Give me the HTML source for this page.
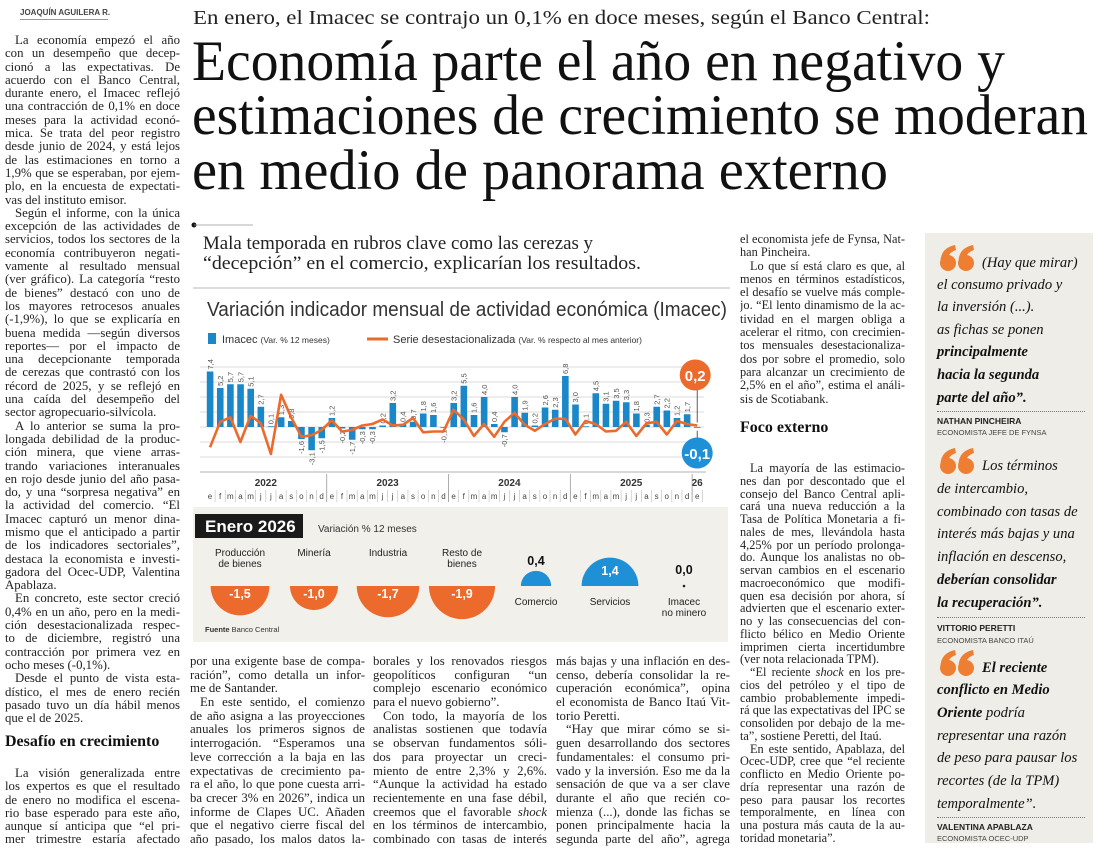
<!DOCTYPE html>
<html><head><meta charset="utf-8">
<style>
html,body{margin:0;padding:0;background:#fff;}
body{width:1100px;height:849px;position:relative;overflow:hidden;}
.col{position:absolute;font-family:"Liberation Serif",serif;font-size:12.8px;color:#222;}
.col div{height:13.3px;line-height:13.3px;overflow:hidden;text-align:justify;text-align-last:justify;}
.col div.e{text-align-last:left;}
.col div.i{padding-left:10px;}
.b div{height:13.7px;line-height:13.7px;}
.r2 div{height:12.76px;line-height:12.76px;}
.r{font-size:12.3px;}
.h2{position:absolute;font-family:"Liberation Serif",serif;font-weight:bold;font-size:16px;color:#111;}
.q{position:absolute;font-family:"Liberation Serif",serif;font-style:italic;font-size:14.6px;color:#111;white-space:nowrap;line-height:16px;}
.q b{font-weight:bold;}
.nm{position:absolute;font-family:"Liberation Sans",sans-serif;font-weight:bold;font-size:8.5px;color:#222;}
.rl{position:absolute;font-family:"Liberation Sans",sans-serif;font-size:7.5px;color:#444;}
.dot{position:absolute;border-top:1px dotted #777;height:0;}
</style></head>
<body>
<div style="position:absolute;left:20px;top:8px;font-family:'Liberation Sans',sans-serif;font-weight:bold;font-size:8px;color:#444;border-bottom:1px solid #999;padding-bottom:2px;width:88px;white-space:nowrap;">JOAQUÍN AGUILERA R.</div>

<div class="col" style="left:5px;top:34px;width:175px;">
<div class="i">La economía empezó el año</div>
<div>con un desempeño que decep-</div>
<div>cionó a las expectativas. De</div>
<div>acuerdo con el Banco Central,</div>
<div>durante enero, el Imacec reflejó</div>
<div>una contracción de 0,1% en doce</div>
<div>meses para la actividad econó-</div>
<div>mica. Se trata del peor registro</div>
<div>desde junio de 2024, y está lejos</div>
<div>de las estimaciones en torno a</div>
<div>1,9% que se esperaban, por ejem-</div>
<div>plo, en la encuesta de expectati-</div>
<div class="e">vas del instituto emisor.</div>
<div class="i">Según el informe, con la única</div>
<div>excepción de las actividades de</div>
<div>servicios, todos los sectores de la</div>
<div>economía contribuyeron negati-</div>
<div>vamente al resultado mensual</div>
<div>(ver gráfico). La categoría “resto</div>
<div>de bienes” destacó con uno de</div>
<div>los mayores retrocesos anuales</div>
<div>(-1,9%), lo que se explicaría en</div>
<div>buena medida —según diversos</div>
<div>reportes— por el impacto de</div>
<div>una decepcionante temporada</div>
<div>de cerezas que contrastó con los</div>
<div>récord de 2025, y se reflejó en</div>
<div>una caída del desempeño del</div>
<div class="e">sector agropecuario-silvícola.</div>
<div class="i">A lo anterior se suma la pro-</div>
<div>longada debilidad de la produc-</div>
<div>ción minera, que viene arras-</div>
<div>trando variaciones interanuales</div>
<div>en rojo desde junio del año pasa-</div>
<div>do, y una “sorpresa negativa” en</div>
<div>la actividad del comercio. “El</div>
<div>Imacec capturó un menor dina-</div>
<div>mismo que el anticipado a partir</div>
<div>de los indicadores sectoriales”,</div>
<div>destaca la economista e investi-</div>
<div>gadora del Ocec-UDP, Valentina</div>
<div class="e">Apablaza.</div>
<div class="i">En concreto, este sector creció</div>
<div>0,4% en un año, pero en la medi-</div>
<div>ción desestacionalizada respec-</div>
<div>to de diciembre, registró una</div>
<div>contracción por primera vez en</div>
<div class="e">ocho meses (-0,1%).</div>
<div class="i">Desde el punto de vista esta-</div>
<div>dístico, el mes de enero recién</div>
<div>pasado tuvo un día hábil menos</div>
<div class="e">que el de 2025.</div>
</div>
<div class="h2" style="left:5px;top:733px;">Desafío en crecimiento</div>
<div class="col" style="left:5px;top:767px;width:175px;">
<div class="i">La visión generalizada entre</div>
<div>los expertos es que el resultado</div>
<div>de enero no modifica el escena-</div>
<div>rio base esperado para este año,</div>
<div>aunque sí anticipa que “el pri-</div>
<div>mer trimestre estaría afectado</div>
</div>

<div class="col b" style="left:190px;top:655px;width:175px;">
<div>por una exigente base de compa-</div>
<div>ración”, como detalla un infor-</div>
<div class="e">me de Santander.</div>
<div class="i">En este sentido, el comienzo</div>
<div>de año asigna a las proyecciones</div>
<div>anuales los primeros signos de</div>
<div>interrogación. “Esperamos una</div>
<div>leve corrección a la baja en las</div>
<div>expectativas de crecimiento pa-</div>
<div>ra el año, lo que pone cuesta arri-</div>
<div>ba crecer 3% en 2026”, indica un</div>
<div>informe de Clapes UC. Añaden</div>
<div>que el negativo cierre fiscal del</div>
<div>año pasado, los malos datos la-</div>
</div>
<div class="col b" style="left:373px;top:655px;width:174px;">
<div>borales y los renovados riesgos</div>
<div>geopolíticos configuran “un</div>
<div>complejo escenario económico</div>
<div class="e">para el nuevo gobierno”.</div>
<div class="i">Con todo, la mayoría de los</div>
<div>analistas sostienen que todavía</div>
<div>se observan fundamentos sóli-</div>
<div>dos para proyectar un creci-</div>
<div>miento de entre 2,3% y 2,6%.</div>
<div>“Aunque la actividad ha estado</div>
<div>recientemente en una fase débil,</div>
<div>creemos que el favorable <i>shock</i></div>
<div>en los términos de intercambio,</div>
<div>combinado con tasas de interés</div>
</div>
<div class="col b" style="left:556px;top:655px;width:174px;">
<div>más bajas y una inflación en des-</div>
<div>censo, debería consolidar la re-</div>
<div>cuperación económica”, opina</div>
<div>el economista de Banco Itaú Vit-</div>
<div class="e">torio Peretti.</div>
<div class="i">“Hay que mirar cómo se si-</div>
<div>guen desarrollando dos sectores</div>
<div>fundamentales: el consumo pri-</div>
<div>vado y la inversión. Eso me da la</div>
<div>sensación de que va a ser clave</div>
<div>durante el año que recién co-</div>
<div>mienza (...), donde las fichas se</div>
<div>ponen principalmente hacia la</div>
<div>segunda parte del año”, agrega</div>
</div>

<div class="col r" style="left:740px;top:233px;width:165px;">
<div>el economista jefe de Fynsa, Nat-</div>
<div class="e">han Pincheira.</div>
<div class="i">Lo que sí está claro es que, al</div>
<div>menos en términos estadísticos,</div>
<div>el desafío se vuelve más comple-</div>
<div>jo. “El lento dinamismo de la ac-</div>
<div>tividad en el margen obliga a</div>
<div>acelerar el ritmo, con crecimien-</div>
<div>tos mensuales desestacionaliza-</div>
<div>dos por sobre el promedio, solo</div>
<div>para alcanzar un crecimiento de</div>
<div>2,5% en el año”, estima el análi-</div>
<div class="e">sis de Scotiabank.</div>
</div>
<div class="h2" style="left:740px;top:419px;">Foco externo</div>
<div class="col r r2" style="left:740px;top:462px;width:165px;">
<div class="i">La mayoría de las estimacio-</div>
<div>nes dan por descontado que el</div>
<div>consejo del Banco Central apli-</div>
<div>cará una nueva reducción a la</div>
<div>Tasa de Política Monetaria a fi-</div>
<div>nales de mes, llevándola hasta</div>
<div>4,25% por un período prolonga-</div>
<div>do. Aunque los analistas no ob-</div>
<div>servan cambios en el escenario</div>
<div>macroeconómico que modifi-</div>
<div>quen esa decisión por ahora, sí</div>
<div>advierten que el escenario exter-</div>
<div>no y las consecuencias del con-</div>
<div>flicto bélico en Medio Oriente</div>
<div>imprimen cierta incertidumbre</div>
<div class="e">(ver nota relacionada TPM).</div>
<div class="i">“El reciente <i>shock</i> en los pre-</div>
<div>cios del petróleo y el tipo de</div>
<div>cambio probablemente impedi-</div>
<div>rá que las expectativas del IPC se</div>
<div>consoliden por debajo de la me-</div>
<div class="e">ta”, sostiene Peretti, del Itaú.</div>
<div class="i">En este sentido, Apablaza, del</div>
<div>Ocec-UDP, cree que “el reciente</div>
<div>conflicto en Medio Oriente po-</div>
<div>dría representar una razón de</div>
<div>peso para pausar los recortes</div>
<div>temporalmente, en línea con</div>
<div>una postura más cauta de la au-</div>
<div class="e">toridad monetaria”.</div>
</div>

<div style="position:absolute;left:925px;top:233px;width:168px;height:610px;background:#efede7;"></div>
<div class="q" style="left:982px;top:255px;">(Hay que mirar)</div>
<div class="q" style="left:937px;top:277px;">el consumo privado y</div>
<div class="q" style="left:937px;top:299px;">la inversión (...).</div>
<div class="q" style="left:937px;top:322px;">as fichas se ponen</div>
<div class="q" style="left:937px;top:344px;"><b>principalmente</b></div>
<div class="q" style="left:937px;top:367px;"><b>hacia la segunda</b></div>
<div class="q" style="left:937px;top:390px;"><b>parte del año”.</b></div>
<div class="dot" style="left:937px;top:411px;width:148px;"></div>
<div class="nm" style="left:937px;top:416px;">NATHAN PINCHEIRA</div>
<div class="rl" style="left:937px;top:428px;">ECONOMISTA JEFE DE FYNSA</div>

<div class="q" style="left:982px;top:458px;">Los términos</div>
<div class="q" style="left:937px;top:481px;">de intercambio,</div>
<div class="q" style="left:937px;top:504px;">combinado con tasas de</div>
<div class="q" style="left:937px;top:526px;">interés más bajas y una</div>
<div class="q" style="left:937px;top:549px;">inflación en descenso,</div>
<div class="q" style="left:937px;top:572px;"><b>deberían consolidar</b></div>
<div class="q" style="left:937px;top:595px;"><b>la recuperación”.</b></div>
<div class="dot" style="left:937px;top:617px;width:148px;"></div>
<div class="nm" style="left:937px;top:623px;">VITTORIO PERETTI</div>
<div class="rl" style="left:937px;top:636px;">ECONOMISTA BANCO ITAÚ</div>

<div class="q" style="left:982px;top:660px;"><b>El reciente</b></div>
<div class="q" style="left:937px;top:682px;"><b>conflicto en Medio</b></div>
<div class="q" style="left:937px;top:705px;"><b>Oriente</b> podría</div>
<div class="q" style="left:937px;top:728px;">representar una razón</div>
<div class="q" style="left:937px;top:750px;">de peso para pausar los</div>
<div class="q" style="left:937px;top:773px;">recortes (de la TPM)</div>
<div class="q" style="left:937px;top:796px;">temporalmente”.</div>
<div class="dot" style="left:937px;top:817px;width:148px;"></div>
<div class="nm" style="left:937px;top:822px;">VALENTINA APABLAZA</div>
<div class="rl" style="left:937px;top:834px;">ECONOMISTA OCEC-UDP</div>

<svg id="page" width="1100" height="849" viewBox="0 0 1100 849" style="position:absolute;left:0;top:0;" xmlns="http://www.w3.org/2000/svg">
<g font-family="Liberation Serif, serif" fill="#111">
<text x="193" y="24" font-size="20" textLength="737" lengthAdjust="spacingAndGlyphs" fill="#222">En enero, el Imacec se contrajo un 0,1% en doce meses, según el Banco Central:</text>
<text x="192" y="80" font-size="57" textLength="813" lengthAdjust="spacingAndGlyphs">Economía parte el año en negativo y</text>
<text x="192" y="134" font-size="57" textLength="896" lengthAdjust="spacingAndGlyphs">estimaciones de crecimiento se moderan</text>
<text x="192" y="189" font-size="57" textLength="696" lengthAdjust="spacingAndGlyphs">en medio de panorama externo</text>
<text x="203" y="249" font-size="19" textLength="390" lengthAdjust="spacingAndGlyphs" fill="#222">Mala temporada en rubros clave como las cerezas y</text>
<text x="203" y="269" font-size="19" textLength="438" lengthAdjust="spacingAndGlyphs" fill="#222">“decepción” en el comercio, explicarían los resultados.</text>
</g>
<circle cx="194" cy="225" r="2.5" fill="#111"/>
<line x1="194" y1="225" x2="253" y2="225" stroke="#999" stroke-width="0.8"/>
<line x1="193" y1="288" x2="730" y2="288" stroke="#bbb" stroke-width="1"/>
<g fill="#ee7f32">
<circle cx="948" cy="263" r="8"/><path d="M940.5 261 Q941 248 955 245 L956 250 Q948 253 948.5 258 Z"/>
<circle cx="966" cy="263" r="8"/><path d="M958.5 261 Q959 248 973 245 L974 250 Q966 253 966.5 258 Z"/>
<circle cx="948" cy="466" r="8"/><path d="M940.5 464 Q941 451 955 448 L956 453 Q948 456 948.5 461 Z"/>
<circle cx="966" cy="466" r="8"/><path d="M958.5 464 Q959 451 973 448 L974 453 Q966 456 966.5 461 Z"/>
<circle cx="948" cy="668" r="8"/><path d="M940.5 666 Q941 653 955 650 L956 655 Q948 658 948.5 663 Z"/>
<circle cx="966" cy="668" r="8"/><path d="M958.5 666 Q959 653 973 650 L974 655 Q966 658 966.5 663 Z"/>
</g>
<g id="chart" font-family="Liberation Sans, sans-serif"></g>
</svg>

<script>
const monthLabels = ['e','f','m','a','m','j','j','a','s','o','n','d','e','f','m','a','m','j','j','a','s','o','n','d','e','f','m','a','m','j','j','a','s','o','n','d','e','f','m','a','m','j','j','a','s','o','n','d','e'];
const yearLabels = ['2022','2023','2024','2025','26'];
const imacec = [7.4,5.2,5.7,5.7,5.1,2.7,0.1,1.3,0.8,-1.6,-3.1,-1.5,
  1.2,-0.2,-1.7,-0.3,-0.3,0.2,3.2,0.4,0.7,1.8,1.6,-0.1,
  3.2,5.5,1.6,4.0,0.4,-0.7,4.0,1.9,0.2,2.6,2.3,6.8,
  3.0,0.1,4.5,3.1,3.5,3.3,1.8,0.3,2.7,2.2,1.2,1.7,
  -0.1];
const desest = [-2.7,0.7,1.3,-2.0,1.5,0.5,-3.6,4.3,1.3,-1.3,-1.1,-0.4,
  0.9,-0.6,-0.4,0.2,0.4,1.0,0.2,0.3,1.2,-0.7,-0.6,-0.6,
  2.3,1.0,-1.2,0.4,-1.3,0.7,1.9,0.3,-0.5,0.4,1.1,1.1,
  -1.0,0.8,0.4,-0.6,-0.5,0.7,-1.2,0.5,0.7,-1.0,0.8,0.4,
  0.2];
const gridTicks = [-4,-2,0,2,4,6,8];
const sectorNames = [['Producción','de bienes'],['Minería'],['Industria'],['Resto de','bienes'],['Comercio'],['Servicios'],['Imacec','no minero']];
const sectorValues = [-1.5,-1.0,-1.7,-1.9,0.4,1.4,0.0];

const NS='http://www.w3.org/2000/svg';
const g=document.getElementById('chart');
function el(tag,attrs,parent){const e=document.createElementNS(NS,tag);for(const k in attrs)e.setAttribute(k,attrs[k]);(parent||g).appendChild(e);return e;}
function fmt(v){return v.toFixed(1).replace('.',',');}
const x0=210, step=10.15, base=427, unit=7.5;
const xs=i=>x0+i*step;
const ys=v=>base-v*unit;

let t=el('text',{x:207,y:316,'font-size':20,fill:'#333',textLength:520,lengthAdjust:'spacingAndGlyphs'});
t.textContent='Variación indicador mensual de actividad económica (Imacec)';


let lg=el('rect',{x:208,y:333,width:8,height:11,fill:'#1a87c9'});


t=el('text',{x:222,y:343,'font-size':11,fill:'#333'});t.innerHTML='Imacec <tspan font-size="8.5">(Var. % 12 meses)</tspan>';


lg=el('line',{x1:367,y1:339,x2:388,y2:339,stroke:'#ec6a2c','stroke-width':3});


t=el('text',{x:393,y:343,'font-size':11,fill:'#333'});t.innerHTML='Serie desestacionalizada <tspan font-size="8.5">(Var. % respecto al mes anterior)</tspan>';



gridTicks.forEach(v=>{const l=el('line',{x1:200,x2:704,y1:ys(v),y2:ys(v),stroke:'#cfcfcf','stroke-width':0.7});

});

imacec.forEach((v,i)=>{
  const r=el('rect',{x:xs(i)-3.2,y:Math.min(ys(v),base),width:6.6,height:Math.max(Math.abs(v)*unit,0.8),fill:'#1a87c9'});
  
  
  if(i<imacec.length-1){
    const pos=v>=0;
    const yy=pos?ys(v)-2:ys(v)+2;
    const lb=el('text',{x:0,y:0,'font-size':7.5,fill:'#555','text-anchor':pos?'start':'end',transform:`translate(${xs(i)+2.8},${yy}) rotate(-90)`});
    lb.textContent=fmt(v);
    
    
  }
});
const pts=desest.map((v,i)=>xs(i).toFixed(1)+','+ys(v).toFixed(1)).join(' ');
const pl=el('polyline',{points:pts,fill:'none',stroke:'#ec6a2c','stroke-width':2.6,'stroke-linejoin':'round'});



const li=desest.length-1;
const cxL=xs(li)-2;
el('line',{x1:cxL+2,y1:390,x2:cxL+2,y2:ys(desest[li])-3,stroke:'#333','stroke-width':0.8});
el('line',{x1:cxL+2,y1:438,x2:cxL+2,y2:ys(imacec[li])+3,stroke:'#333','stroke-width':0.8});
let c=el('circle',{cx:cxL,cy:375,r:15.5,fill:'#ec6a2c'});


t=el('text',{x:cxL,y:381,'font-size':15,'font-weight':'bold',fill:'#fff','text-anchor':'middle'});t.textContent=fmt(desest[li]);
c=el('circle',{cx:cxL+2,cy:453,r:15.5,fill:'#1f8fd6'});


t=el('text',{x:cxL+2,y:459,'font-size':15,'font-weight':'bold',fill:'#fff','text-anchor':'middle'});t.textContent=fmt(imacec[li]);

el('line',{x1:200,x2:706,y1:472,y2:472,stroke:'#999','stroke-width':0.8});
monthLabels.forEach((m,i)=>{
  const mt=el('text',{x:xs(i),y:499,'font-size':8,fill:'#444','text-anchor':'middle'});mt.textContent=m;
  
  
  el('line',{x1:xs(i)+step/2,x2:xs(i)+step/2,y1:490,y2:502,stroke:'#bbb','stroke-width':0.6});
});
yearLabels.forEach((y,k)=>{
  const s=k*12, e=Math.min(s+11,monthLabels.length-1);
  const yt=el('text',{x:(xs(s)+xs(e))/2,y:486,'font-size':10,'font-weight':'bold',fill:'#333','text-anchor':'middle'});yt.textContent=y;
  
  
  if(k>0) el('line',{x1:xs(s)-step/2,x2:xs(s)-step/2,y1:474,y2:502,stroke:'#999','stroke-width':0.8});
});

const bg=el('rect',{x:193,y:507,width:535,height:135,fill:'#f2f0eb'});


el('rect',{x:195,y:514,width:108,height:24,fill:'#1a1a1a'});
t=el('text',{x:205,y:532,'font-size':17,'font-weight':'bold',fill:'#fff'});t.textContent='Enero 2026';


t=el('text',{x:318,y:532,'font-size':10,fill:'#333'});t.textContent='Variación % 12 meses';
const base2=586;
sectorValues.forEach((v,i)=>{
  const cx=240+i*74;
  const r=24*Math.sqrt(Math.abs(v));
  const names=sectorNames[i];
  if(v<0){
    const p=el('path',{d:`M${cx-r},${base2} A${r},${r} 0 0 0 ${cx+r},${base2} Z`,fill:'#ec6a2c'});
    
    
    const vt=el('text',{x:cx,y:base2+12,'font-size':12.5,'font-weight':'bold',fill:'#fff','text-anchor':'middle'});vt.textContent=fmt(v);
    names.forEach((n,j)=>{const nt=el('text',{x:cx,y:556+j*11,'font-size':10,fill:'#222','text-anchor':'middle'});nt.textContent=n;
      
      });
  } else {
    if(r>0){
      const p=el('path',{d:`M${cx-r},${base2} A${r},${r} 0 0 1 ${cx+r},${base2} Z`,fill:'#1f8fd6'});
      
      
    } else el('circle',{cx:cx,cy:base2,r:1.3,fill:'#222'});
    const inside=r>22;
    const vt=el('text',{x:cx,y:inside?base2-r/2+3:base2-Math.max(r,6)-6,'font-size':12.5,'font-weight':'bold',fill:inside?'#fff':'#111','text-anchor':'middle'});vt.textContent=fmt(v);
    names.forEach((n,j)=>{const nt=el('text',{x:cx,y:605+j*11,'font-size':10,fill:'#222','text-anchor':'middle'});nt.textContent=n;
      
      });
  }
});
t=el('text',{x:205,y:632,'font-size':7.5,fill:'#333'});t.innerHTML='<tspan font-weight="bold">Fuente</tspan>  Banco Central';


</script>
</body></html>
